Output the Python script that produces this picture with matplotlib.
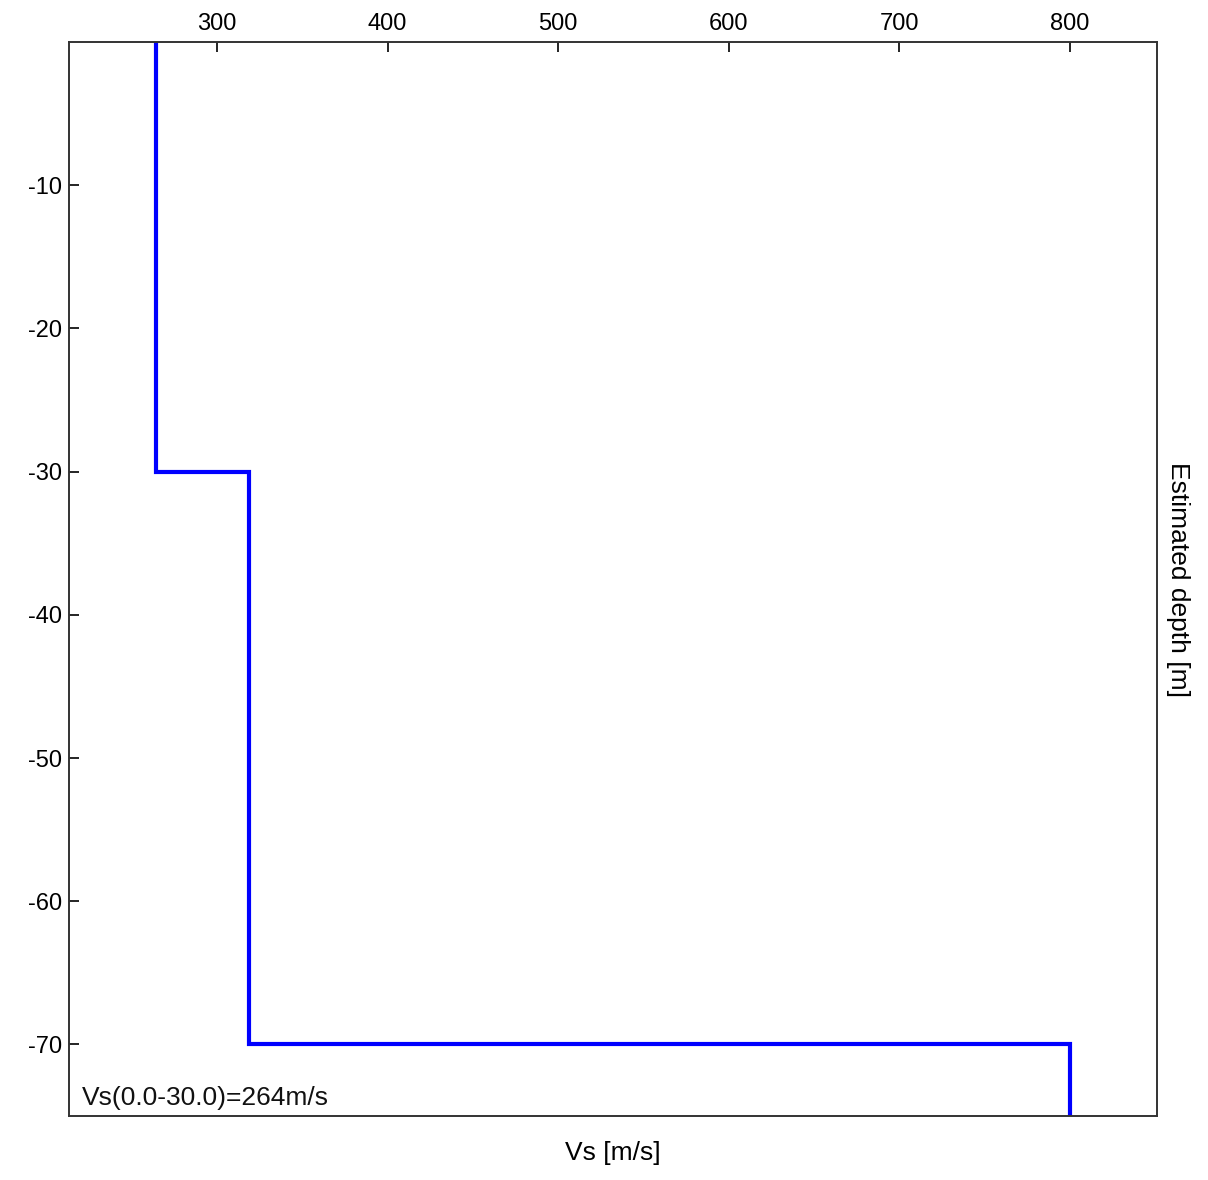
import matplotlib
matplotlib.use("Agg")
import matplotlib.pyplot as plt

plt.rcParams['font.family'] = ['Liberation Sans', 'DejaVu Sans']
plt.rcParams['axes.unicode_minus'] = False

# Layered shear-wave velocity model
layer_top = [0.0, -30.0, -70.0]
layer_bottom = [-30.0, -70.0, -75.0]
vs = [264, 319, 800]

x_ticks = [300, 400, 500, 600, 700, 800]
y_ticks = [-10, -20, -30, -40, -50, -60, -70]
vs30_label = "Vs(0.0-30.0)=264m/s"

fig = plt.figure(figsize=(12.08, 11.80), dpi=100)
ax = fig.add_axes([0.0569, 0.0542, 0.9006, 0.9102])

# Build the stepped profile from the layers
xs, ys = [], []
for top, bot, v in zip(layer_top, layer_bottom, vs):
    xs += [v, v]
    ys += [top, bot]
ax.plot(xs, ys, color='#0000ff', lw=3.0, solid_joinstyle='miter')

ax.set_xlim(213, 851)
ax.set_ylim(-75, 0)

ax.xaxis.tick_top()
ax.set_xticks(x_ticks)
ax.set_yticks(y_ticks)
ax.tick_params(axis='both', direction='in', length=7, width=1.2,
               labelsize=17, colors='black')
ax.tick_params(axis='x', pad=5)
ax.tick_params(axis='y', pad=5)

for s in ax.spines.values():
    s.set_linewidth(1.4)
    s.set_color('#333333')

ax.set_xlabel("Vs [m/s]", fontsize=19, labelpad=18)
ax.xaxis.set_label_position('bottom')
ax.yaxis.set_label_position('right')
ax.set_ylabel("Estimated depth [m]", fontsize=19, rotation=-90, labelpad=24)

ax.text(0.012, 0.006, vs30_label, transform=ax.transAxes,
        fontsize=19, ha='left', va='bottom', color='#111111')

fig.savefig("out.png", dpi=100)
